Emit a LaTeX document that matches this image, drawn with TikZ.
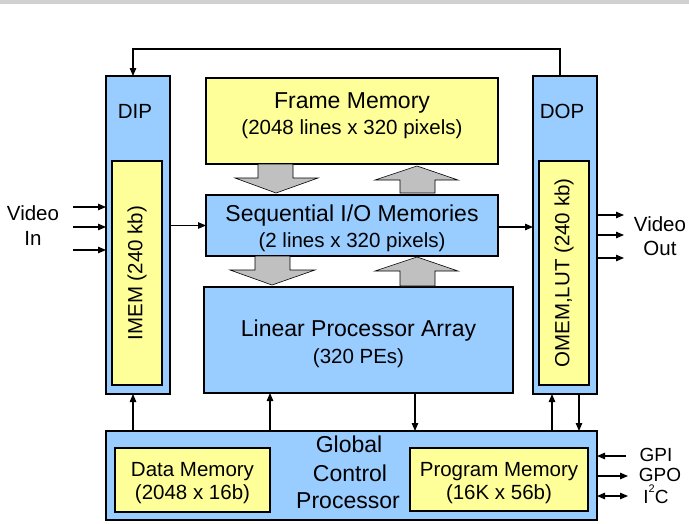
\documentclass[tikz,border=0pt]{standalone}
\usepackage{fontspec}
\setmainfont{Liberation Sans}
\usetikzlibrary{arrows.meta}

\definecolor{boxblue}{HTML}{99CCFF}
\definecolor{boxyellow}{HTML}{FFFF99}
\definecolor{busgray}{HTML}{C0C0C0}

\begin{document}
\begin{tikzpicture}[
  x=1pt, y=-1pt,
  big text/.style={font=\fontsize{23}{27}\selectfont, inner sep=0pt},
  small text/.style={font=\fontsize{20.5}{24}\selectfont, inner sep=0pt},
  pin text/.style={font=\fontsize{19}{21}\selectfont, inner sep=0pt},
  unit box/.style={
    draw=black,
    line width=1.8pt,
    inner sep=0pt,
    outer sep=0pt
  },
  blue box/.style={unit box, fill=boxblue},
  memory box/.style={unit box, fill=boxyellow, line width=1.5pt},
  signal arrow/.style={
    -{Triangle[length=8pt,width=6.5pt]},
    draw=black,
    line width=1.1pt
  },
  both arrow/.style={
    {Triangle[length=8pt,width=6.5pt]}-{Triangle[length=8pt,width=6.5pt]},
    draw=black,
    line width=1.1pt
  },
  bus arrow/.style={draw=black, line width=0.6pt, fill=busgray}
]

\path[use as bounding box] (0,0) rectangle (689,523);
\fill[black!18] (0,0) rectangle (689,4);

% input and output processors
\node[blue box, minimum width=64pt, minimum height=318pt] (dip) at (138,235) {};
\node[memory box, minimum width=50pt, minimum height=224pt] (imem) at (137,273) {};
\node[small text, rotate=90] (imem-label) at (imem.center) {IMEM (240 kb)};
\node[small text, anchor=base] (dip-label) at (135,118) {DIP};

\node[blue box, minimum width=64pt, minimum height=318pt] (dop) at (565,235) {};
\node[memory box, minimum width=50pt, minimum height=224pt] (omem) at (564,273) {};
\node[small text, rotate=90] (omem-label) at (omem.center) {OMEM,LUT (240 kb)};
\node[small text, anchor=base] (dop-label) at (562,118) {DOP};

% memories and array
\node[memory box, minimum width=292pt, minimum height=86pt] (frame) at (352,121) {};
\node[big text, anchor=base] (frame-title) at (352,108) {Frame Memory};
\node[small text, anchor=base] (frame-size) at (352,134) {(2048 lines x 320 pixels)};

\node[blue box, minimum width=292pt, minimum height=61pt] (seq) at (352,225.5) {};
\node[big text, anchor=base] (seq-title) at (352,221) {Sequential I/O Memories};
\node[small text, anchor=base] (seq-size) at (352,247) {(2 lines x 320 pixels)};

\node[blue box, minimum width=309pt, minimum height=106pt] (lpa) at (358.5,340) {};
\node[big text, anchor=base] (lpa-title) at (358.5,336.5) {Linear Processor Array};
\node[small text, anchor=base] (lpa-size) at (358.5,363) {(320 PEs)};

% global control processor
\node[blue box, minimum width=491pt, minimum height=89pt] (gcp) at (351.5,475.5) {};
\node[big text, anchor=base] (gcp-title1) at (349,452.5) {Global};
\node[big text, anchor=base] (gcp-title2) at (350,481) {Control};
\node[big text, anchor=base] (gcp-title3) at (348,508) {Processor};

\node[memory box, minimum width=155pt, minimum height=64pt] (datamem) at (192.5,480) {};
\node[small text, anchor=base] (datamem-title) at (192.5,476) {Data Memory};
\node[small text, anchor=base] (datamem-size) at (192.5,499.5) {(2048 x 16b)};

\node[memory box, minimum width=178pt, minimum height=63pt] (progmem) at (499,479.5) {};
\node[small text, anchor=base] (progmem-title) at (499,476) {Program Memory};
\node[small text, anchor=base] (progmem-size) at (499,499.5) {(16K x 56b)};

% wide transfer arrows
\draw[bus arrow] (258,164) -- (293,164) -- (293,178) -- (318,178) -- (276,193)
  -- (235,178) -- (258,178) -- cycle;
\draw[bus arrow] (400,193) -- (435,193) -- (435,180) -- (458,180) -- (417,166)
  -- (375,180) -- (400,180) -- cycle;
\draw[bus arrow] (255,256) -- (290,256) -- (290,270) -- (315,270) -- (272,285)
  -- (230,270) -- (255,270) -- cycle;
\draw[bus arrow] (400,286) -- (435,286) -- (435,271) -- (458,271) -- (417,257)
  -- (375,271) -- (400,271) -- cycle;

% video in and out
\node[small text, anchor=base] (vin-label1) at (33,220) {Video};
\node[small text, anchor=base] (vin-label2) at (33,245) {In};
\node[small text, anchor=base] (vout-label1) at (660,231.5) {Video};
\node[small text, anchor=base] (vout-label2) at (660,255) {Out};

\coordinate (vin1) at (73,207);
\coordinate (vin2) at (73,227);
\coordinate (vin3) at (73,250);
\draw[signal arrow] (vin1) -- (vin1 -| dip.west);
\draw[signal arrow] (vin2) -- (vin2 -| dip.west);
\draw[signal arrow] (vin3) -- (vin3 -| dip.west);

\coordinate (vout1) at (624,215);
\coordinate (vout2) at (624,235);
\coordinate (vout3) at (624,258);
\draw[signal arrow] (vout1 -| dop.east) -- (vout1);
\draw[signal arrow] (vout2 -| dop.east) -- (vout2);
\draw[signal arrow] (vout3 -| dop.east) -- (vout3);

\draw[signal arrow] (seq.west -| dip.east) -- (seq.west);
\draw[signal arrow] ([yshift=-1.5pt]seq.east) -- ([yshift=-1.5pt]seq.east -| dop.west);

% feedback from DOP to DIP
\draw[signal arrow] ([xshift=-5pt]dop.north) -- ++(0,-27) -| ([xshift=-5pt]dip.north);

% control connections
\draw[signal arrow] ([xshift=-5pt]dip.south |- gcp.north) -- ([xshift=-5pt]dip.south);
\draw[signal arrow] ([xshift=-88.5pt]lpa.south |- gcp.north) -- ([xshift=-88.5pt]lpa.south);
\draw[signal arrow] ([xshift=56.5pt]lpa.south) -- ([xshift=56.5pt]lpa.south |- gcp.north);
\draw[signal arrow] ([xshift=-13pt]dop.south |- gcp.north) -- ([xshift=-13pt]dop.south);
\draw[signal arrow] ([xshift=14pt]dop.south) -- ([xshift=14pt]dop.south |- gcp.north);

% general purpose I/O
\coordinate (gpi) at (626,456);
\coordinate (gpo) at (628,476);
\coordinate (iic) at (628,496);
\draw[signal arrow] (gpi) -- (gpi -| gcp.east);
\draw[signal arrow] (gpo -| gcp.east) -- (gpo);
\draw[both arrow] (iic -| gcp.east) -- (iic);
\node[pin text, anchor=base] (gpi-label) at (656,461) {GPI};
\node[pin text, anchor=base] (gpo-label) at (660,481) {GPO};
\node[pin text, anchor=base] (iic-label) at (656,503)
  {I\smash{\raisebox{0.55em}{\fontsize{11}{12}\selectfont 2}}C};

\end{tikzpicture}
\end{document}
